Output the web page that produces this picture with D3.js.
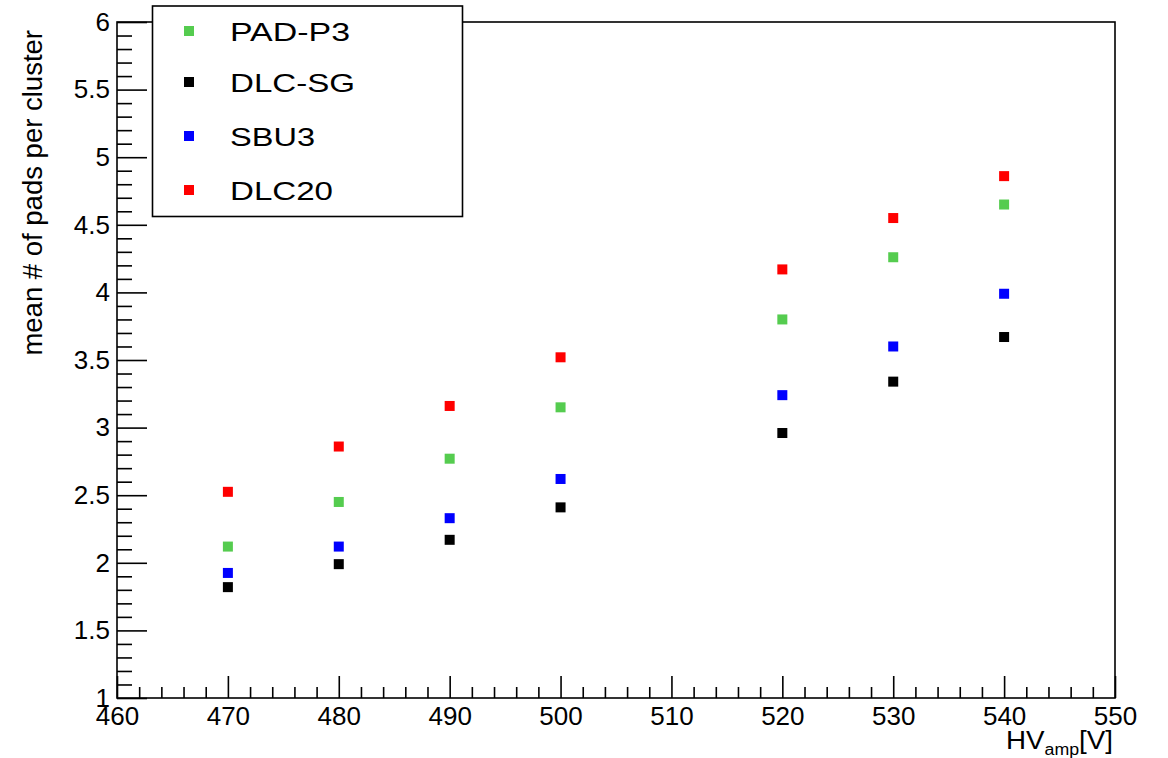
<!DOCTYPE html>
<html>
<head>
<meta charset="utf-8">
<script src="https://cdn.jsdelivr.net/npm/d3@7"></script>
<style>
  html, body { margin: 0; padding: 0; background: #fff; }
  svg { display: block; font-family: "Liberation Sans", Arial, sans-serif; }
</style>
</head>
<body>
<svg id="chart" width="1168" height="758"></svg>
<script>
// ---- data ----
const hvValues = [470, 480, 490, 500, 520, 530, 540];
const seriesNames = ["PAD-P3", "DLC-SG", "SBU3", "DLC20"];
const seriesColors = ["#55cc4f", "#000000", "#0000ff", "#ff0000"];
const padP3 = [2.12, 2.45, 2.77, 3.15, 3.80, 4.26, 4.65];
const dlcSG = [1.82, 1.99, 2.17, 2.41, 2.96, 3.34, 3.67];
const sbu3 = [1.925, 2.12, 2.33, 2.62, 3.24, 3.60, 3.99];
const dlc20 = [2.525, 2.86, 3.16, 3.52, 4.17, 4.55, 4.86];
const xMajorTicks = [460, 470, 480, 490, 500, 510, 520, 530, 540, 550];
const yMajorTicks = [1, 1.5, 2, 2.5, 3, 3.5, 4, 4.5, 5, 5.5, 6];
const xTitle = "HV";
const xTitleSub = "amp";
const xTitleTail = "[V]";
const yTitle = "mean # of pads per cluster";

const seriesData = [padP3, dlcSG, sbu3, dlc20];

// ---- layout ----
const L = 117, R = 1115, T = 22, B = 698;
const svg = d3.select("#chart");

const x = d3.scaleLinear().domain([460, 550]).range([L, R]);
const y = d3.scaleLinear().domain([1, 6]).range([B, T]);

// minor ticks
const xMinor = d3.range(460, 550.001, 2).filter(v => !xMajorTicks.includes(v));
const yMinor = d3.range(10, 60.001, 1).map(v => v / 10).filter(v => !yMajorTicks.some(t => Math.abs(t - v) < 1e-9));

// y axis (ticks inward)
const yMinAx = svg.append("g").attr("transform", `translate(${L},0)`)
  .call(d3.axisLeft(y).tickValues(yMinor).tickSize(-15).tickFormat(""));
const yMajAx = svg.append("g").attr("transform", `translate(${L},0)`)
  .call(d3.axisLeft(y).tickValues(yMajorTicks).tickSize(-30).tickPadding(7).tickFormat(d3.format("")));
// x axis
const xMinAx = svg.append("g").attr("transform", `translate(0,${B})`)
  .call(d3.axisBottom(x).tickValues(xMinor).tickSize(-11).tickFormat(""));
const xMajAx = svg.append("g").attr("transform", `translate(0,${B})`)
  .call(d3.axisBottom(x).tickValues(xMajorTicks).tickSize(-22).tickPadding(9).tickFormat(d3.format("")));

[yMinAx, yMajAx, xMinAx, xMajAx].forEach(g => {
  g.select(".domain").remove();
  g.selectAll(".tick line").attr("stroke", "#000").attr("stroke-width", 1.6);
  g.selectAll("text").attr("font-size", 26).attr("fill", "#000")
    .attr("font-family", "'Liberation Sans', Arial, sans-serif");
});

// frame
svg.append("rect").attr("x", L).attr("y", T).attr("width", R - L).attr("height", B - T)
  .attr("fill", "none").attr("stroke", "#000").attr("stroke-width", 1.6);

// points
seriesData.forEach((vals, si) => {
  svg.append("g").selectAll("rect").data(vals).join("rect")
    .attr("x", (d, i) => x(hvValues[i]) - 5)
    .attr("y", d => y(d) - 5)
    .attr("width", 10).attr("height", 10)
    .attr("fill", seriesColors[si]);
});

// legend
const lg = svg.append("g");
lg.append("rect").attr("x", 152.5).attr("y", 6).attr("width", 310).attr("height", 210.5)
  .attr("fill", "#fff").attr("stroke", "#000").attr("stroke-width", 1.6);
const legY = [32, 83, 137, 191];
const legTextWidth = [120, 125, 85, 103];
seriesNames.forEach((name, i) => {
  lg.append("rect").attr("x", 184).attr("y", legY[i] - 6).attr("width", 10).attr("height", 10)
    .attr("fill", seriesColors[i]);
  lg.append("text").attr("x", 230).attr("y", legY[i]).attr("dy", "0.36em")
    .attr("font-size", 26).attr("fill", "#000")
    .attr("textLength", legTextWidth[i]).attr("lengthAdjust", "spacingAndGlyphs")
    .text(name);
});

// y title
svg.append("text")
  .attr("transform", `translate(42,30) rotate(-90)`)
  .attr("text-anchor", "end")
  .attr("font-size", 27.5).attr("fill", "#000")
  .text(yTitle);

// x title
const xt = svg.append("text").attr("x", 1006).attr("y", 749)
  .attr("font-size", 25).attr("fill", "#000")
  .attr("textLength", 107).attr("lengthAdjust", "spacingAndGlyphs");
xt.append("tspan").text(xTitle);
xt.append("tspan").attr("font-size", 16).attr("dy", 6).text(xTitleSub);
xt.append("tspan").attr("dy", -6).text(xTitleTail);
</script>
</body>
</html>
